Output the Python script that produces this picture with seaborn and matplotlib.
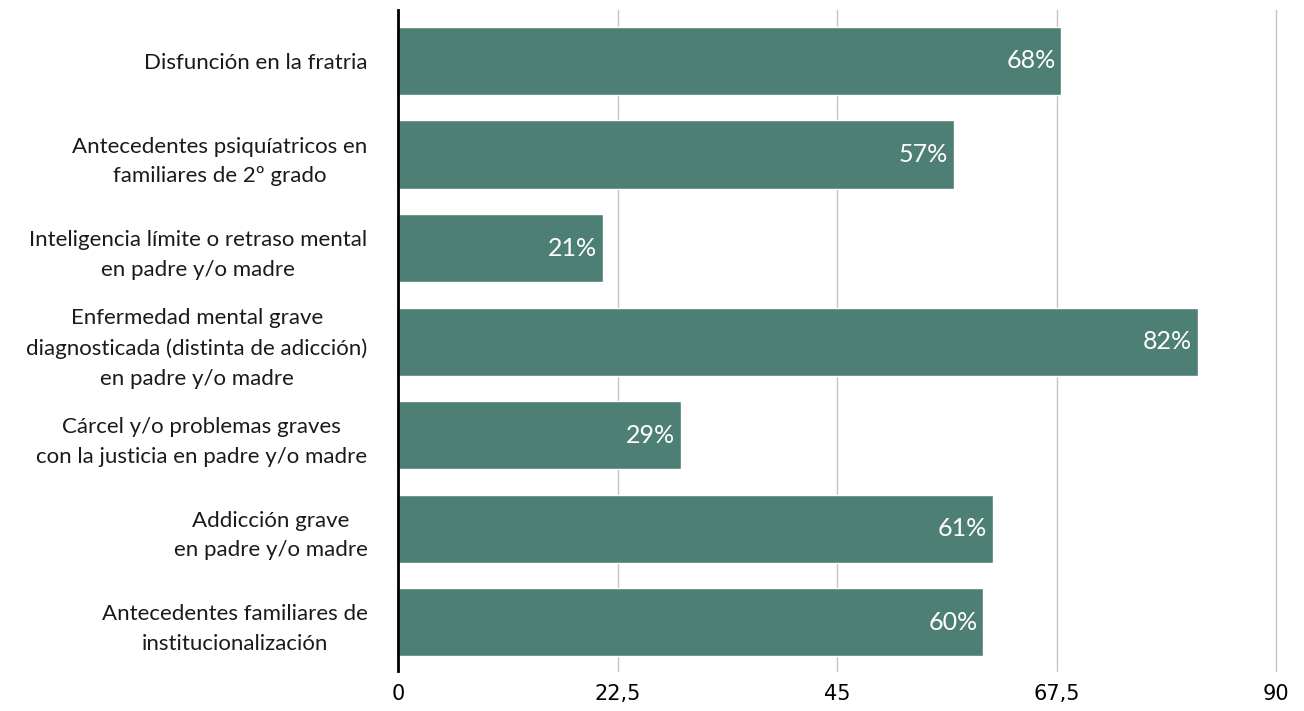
import matplotlib.pyplot as plt
import seaborn as sns
import pandas as pd
from matplotlib.ticker import FuncFormatter

# Factores de riesgo familiares (%)
categories = [
    "Disfunción en la fratria",
    "Antecedentes psiquíatricos en\nfamiliares de 2º grado",
    "Inteligencia límite o retraso mental\nen padre y/o madre",
    "Enfermedad mental grave\ndiagnosticada (distinta de adicción)\nen padre y/o madre",
    "Cárcel y/o problemas graves\ncon la justicia en padre y/o madre",
    "Addicción grave\nen padre y/o madre",
    "Antecedentes familiares de\ninstitucionalización",
]
values = [68, 57, 21, 82, 29, 61, 60]
x_ticks = [0, 22.5, 45, 67.5, 90]

BAR_COLOR = "#4e7f75"

df = pd.DataFrame({"factor": categories, "pct": values})

sns.set_style("white")
plt.rcParams["font.family"] = ["Lato", "DejaVu Sans"]

fig = plt.figure(figsize=(13.04, 7.11), dpi=100)
# axes box in figure fractions (pixel positions)
ax = fig.add_axes([398 / 1304, 1 - 671 / 711, 878 / 1304, 661 / 711])

sns.barplot(data=df, x="pct", y="factor", color=BAR_COLOR, saturation=1,
            width=0.73, orient="h", ax=ax, zorder=3)

ax.set_xlim(0, 90)
ax.set_ylim(6.52, -0.545)
ax.set_xticks(x_ticks)
ax.xaxis.set_major_formatter(FuncFormatter(lambda v, _: f"{v:g}".replace(".", ",")))
ax.grid(axis="x", color="#c4c4c4", linewidth=1, zorder=0)
for gl in ax.get_xgridlines():
    gl.set_clip_on(False)
ax.set_axisbelow(True)

for s in ["top", "right", "bottom"]:
    ax.spines[s].set_visible(False)
ax.spines["left"].set_color("black")
ax.spines["left"].set_linewidth(2)
ax.spines["left"].set_zorder(5)

ax.tick_params(axis="x", length=0, pad=9)
ax.tick_params(axis="y", length=0, pad=22)
for lbl in ax.get_xticklabels():
    lbl.set_family(["Liberation Sans Narrow", "DejaVu Sans"])
    lbl.set_fontsize(15)
    lbl.set_color("black")
for lbl in ax.get_yticklabels():
    lbl.set_fontsize(16)
    lbl.set_multialignment("center")
    lbl.set_linespacing(1.6)
    lbl.set_color("#1a1a1a")

ax.set_xlabel("")
ax.set_ylabel("")

for i, v in enumerate(values):
    ax.text(v - 0.6, i, f"{v}%", color="white", ha="right", va="center",
            fontsize=18, family=["Lato", "DejaVu Sans"], zorder=6)

fig.savefig("out.png", dpi=100)
